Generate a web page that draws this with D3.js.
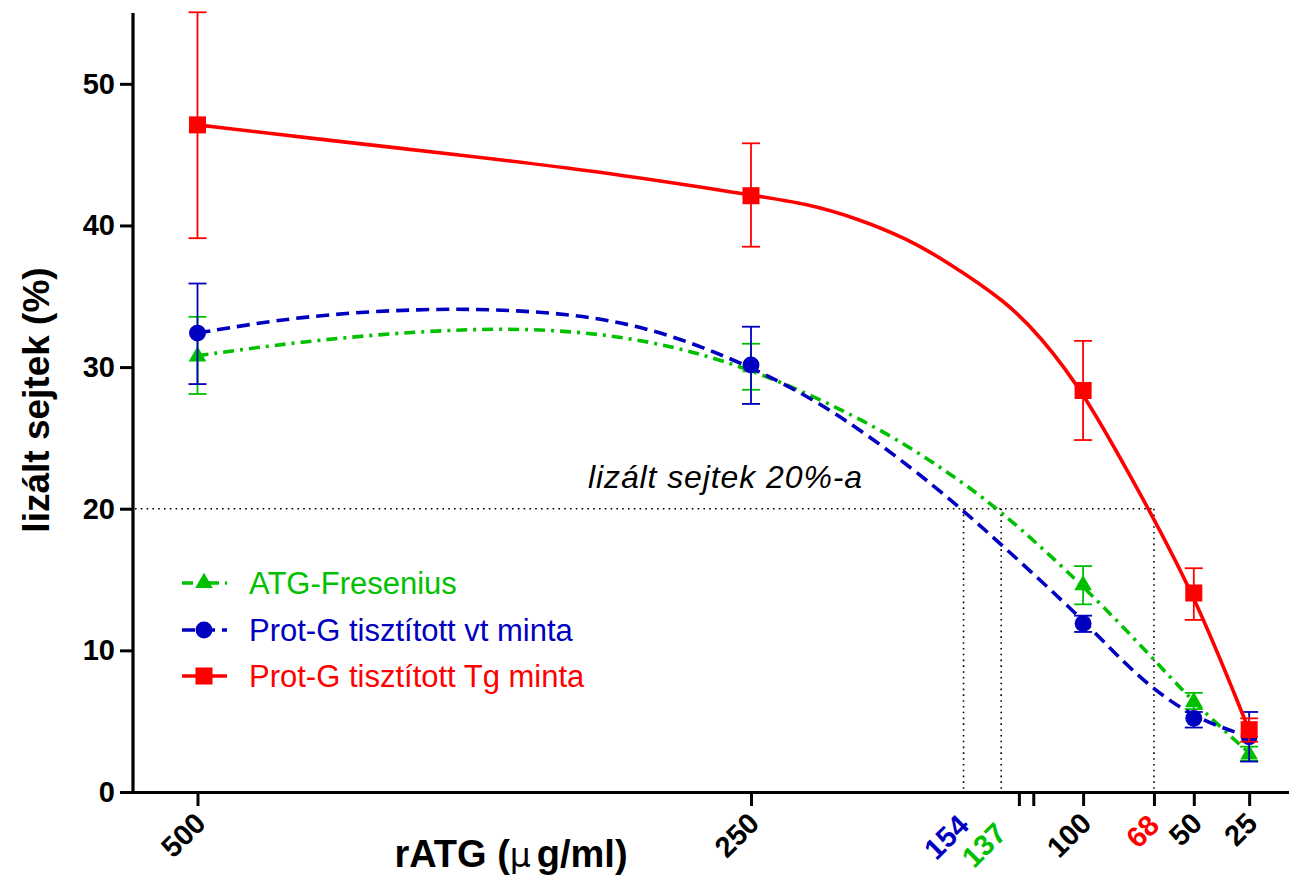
<!DOCTYPE html>
<html>
<head>
<meta charset="utf-8">
<script src="https://cdn.jsdelivr.net/npm/d3@7"></script>
<style>
  html, body { margin: 0; padding: 0; background: #fff; }
  svg { display: block; font-family: "Liberation Sans", Arial, sans-serif; }
</style>
</head>
<body>
<svg id="chart" width="1289" height="877"></svg>
<script>
// ---- measured doses (µg/ml) and lysis (%) ----
const doses = [500, 250, 100, 50, 25];

const atgMean = [30.75, 30.0, 14.6, 6.35, 2.65];
const atgLow  = [28.1, 28.4, 13.25, 5.85, 2.2];
const atgHigh = [33.55, 31.65, 15.95, 7.0, 3.2];

const vtMean = [32.4, 30.15, 11.9, 5.2, 3.9];
const vtLow  = [28.8, 27.4, 11.3, 4.55, 2.15];
const vtHigh = [35.9, 32.85, 12.45, 5.65, 5.65];

const tgMean = [47.1, 42.1, 28.35, 14.05, 4.4];
const tgLow  = [39.1, 38.5, 24.85, 12.15, 3.55];
const tgHigh = [55.05, 45.8, 31.85, 15.8, 5.2];

// ---- fitted curves: [dose, lysis %] ----
const atgFit = [
  [500, 30.8], [454, 31.8], [400, 32.55], [350, 32.8], [300, 32.1], [250, 30.0],
  [195, 26.0], [165, 23.0], [139, 20.15], [100, 14.6], [70, 9.7], [50, 6.3], [25, 2.75]
];
const vtFit = [
  [500, 32.4], [454, 33.6], [400, 34.15], [350, 34.05], [300, 33.15], [250, 30.1],
  [210, 26.75], [165, 21.4], [137.5, 17.55], [100, 12.2], [75, 8.0], [50, 5.2], [25, 3.9]
];
const tgFit = [
  [500, 47.1], [440, 46.0], [380, 44.95], [320, 43.85], [250, 42.15], [225, 41.55],
  [202, 40.5], [180, 39.1], [162, 37.5], [134.5, 34.6], [119.5, 32.2], [100, 28.3],
  [75, 21.3], [50, 14.05], [25, 4.35]
];

// ---- axis ticks and labels ----
const yTicks = [0, 10, 20, 30, 40, 50];
const xTicks = [500, 250, 129, 122.5, 100, 68, 50, 25];
const xLabels = [500, 250, 100, 50, 25];

// ---- 20 % lysis read-offs ----
const refLevel = 20;
const refDoses = [154, 137, 68];
const refNames = ["vt", "atg", "tg"];
const refText = "lizált sejtek 20%-a";

const seriesNames = ["ATG-Fresenius", "Prot-G tisztított vt minta", "Prot-G tisztított Tg minta"];

// ---- styles ----
const colors = { atg: "#00c000", vt: "#0000c0", tg: "#ff0000" };
const dashes = { atg: "11,6,3,6", vt: "13,7", tg: null };
const shapes = { atg: d3.symbolTriangle, vt: d3.symbolCircle, tg: d3.symbolSquare };
const shapeSize = { atg: 135, vt: 225, tg: 290 };

const svg = d3.select("#chart");

const x = d3.scaleLinear().domain([535, 7]).range([120, 1289]);
const y = d3.scaleLinear().domain([0, 55]).range([792, 13]);
const yAxisX = 133;

// y axis
const yAxis = svg.append("g")
  .attr("transform", `translate(${yAxisX},0)`)
  .call(d3.axisLeft(y).tickValues(yTicks).tickSize(13).tickSizeOuter(0).tickPadding(5));
yAxis.select(".domain").attr("stroke", "#000").attr("stroke-width", 3.2)
  .attr("d", `M0,${y(0) + 1.5}V${y(55)}`);
yAxis.selectAll(".tick line").attr("stroke", "#000").attr("stroke-width", 3);
yAxis.selectAll(".tick text")
  .attr("font-family", "Liberation Sans, Arial, sans-serif")
  .attr("font-size", 29).attr("font-weight", "bold").attr("fill", "#000");

// x axis
const xAxis = svg.append("g")
  .attr("transform", `translate(0,${y(0)})`)
  .call(d3.axisBottom(x).tickValues(xTicks).tickSize(14).tickSizeOuter(0).tickFormat(""));
xAxis.select(".domain").attr("stroke", "#000").attr("stroke-width", 3.2);
xAxis.selectAll(".tick line").attr("stroke", "#000").attr("stroke-width", 3);

// rotated dose labels
const labelSize = 29;
svg.append("g").selectAll("text")
  .data(xLabels)
  .join("text")
  .attr("transform", d => `translate(${x(d) + 10},${y(0) + 33}) rotate(-45)`)
  .attr("text-anchor", "end")
  .attr("font-size", labelSize).attr("font-weight", "bold").attr("fill", "#000")
  .text(d => d);

// read-off labels, coloured by series
const refShift = { vt: 0, atg: 8, tg: 0 };
svg.append("g").selectAll("text")
  .data(refDoses.map((d, i) => ({ d, k: refNames[i] })))
  .join("text")
  .attr("transform", e => `translate(${x(e.d) + 7},${y(0) + 35 + refShift[e.k]}) rotate(-45)`)
  .attr("text-anchor", "end")
  .attr("font-size", labelSize).attr("font-weight", "bold")
  .attr("fill", e => colors[e.k])
  .text(e => e.d);

// axis titles
svg.append("text")
  .attr("transform", `translate(49,400) rotate(-90)`)
  .attr("text-anchor", "middle")
  .attr("font-size", 37).attr("font-weight", "bold")
  .text("lizált sejtek (%)");

const xt = svg.append("text")
  .attr("x", 511).attr("y", 867)
  .attr("text-anchor", "middle")
  .attr("font-size", 38).attr("font-weight", "bold");
xt.append("tspan").text("rATG (");
xt.append("tspan").attr("font-weight", "normal").attr("font-family", "DejaVu Sans, sans-serif")
  .attr("font-size", 33).text("µ");
xt.append("tspan").attr("dx", 6).text("g/ml)");

// 20 % reference lines
const ref = svg.append("g").attr("stroke", "#000").attr("stroke-width", 1.6)
  .attr("stroke-dasharray", "1.6,4.2").attr("fill", "none");
ref.append("line")
  .attr("x1", yAxisX + 2).attr("x2", x(d3.min(refDoses)))
  .attr("y1", y(refLevel)).attr("y2", y(refLevel));
ref.selectAll("line.v").data(refDoses).join("line").attr("class", "v")
  .attr("x1", d => x(d)).attr("x2", d => x(d))
  .attr("y1", y(refLevel)).attr("y2", y(0) - 2);

svg.append("text")
  .attr("x", 588).attr("y", 488)
  .attr("font-size", 32).attr("font-style", "italic").attr("letter-spacing", 0.9)
  .text(refText);

// series
const series = [
  { k: "atg", mean: atgMean, low: atgLow, high: atgHigh, fit: atgFit },
  { k: "vt",  mean: vtMean,  low: vtLow,  high: vtHigh,  fit: vtFit },
  { k: "tg",  mean: tgMean,  low: tgLow,  high: tgHigh,  fit: tgFit }
];

// smooth B-spline through the fitted samples (ordered left to right on screen)
const line = d3.line()
  .x(d => x(d[0])).y(d => y(d[1]))
  .curve(d3.curveBasis);

const capHalf = 9;
series.forEach(s => {
  const g = svg.append("g");
  const c = colors[s.k];
  g.append("path")
    .datum(s.fit)
    .attr("d", line)
    .attr("fill", "none").attr("stroke", c).attr("stroke-width", 3.6)
    .attr("stroke-dasharray", dashes[s.k]);

  const eb = g.append("g").attr("stroke", c).attr("stroke-width", 1.8);
  doses.forEach((d, i) => {
    const cx = x(d);
    eb.append("line").attr("x1", cx).attr("x2", cx).attr("y1", y(s.low[i])).attr("y2", y(s.high[i]));
    eb.append("line").attr("x1", cx - capHalf).attr("x2", cx + capHalf).attr("y1", y(s.low[i])).attr("y2", y(s.low[i]));
    eb.append("line").attr("x1", cx - capHalf).attr("x2", cx + capHalf).attr("y1", y(s.high[i])).attr("y2", y(s.high[i]));
  });

  const sym = d3.symbol().type(shapes[s.k]).size(shapeSize[s.k]);
  g.append("g").selectAll("path")
    .data(doses.map((d, i) => [d, s.mean[i]]))
    .join("path")
    .attr("transform", d => `translate(${x(d[0])},${y(d[1])})`)
    .attr("d", sym)
    .attr("fill", c);
});

// legend
const legendRows = [583, 630, 676];
const legend = svg.append("g");
series.forEach((s, i) => {
  const ly = legendRows[i];
  const c = colors[s.k];
  legend.append("line")
    .attr("x1", 182).attr("x2", 227).attr("y1", ly).attr("y2", ly)
    .attr("stroke", c).attr("stroke-width", 3.6)
    .attr("stroke-dasharray", dashes[s.k]);
  legend.append("path")
    .attr("transform", `translate(204,${ly})`)
    .attr("d", d3.symbol().type(shapes[s.k]).size(shapeSize[s.k]))
    .attr("fill", c);
  legend.append("text")
    .attr("x", 249).attr("y", ly).attr("dy", "0.36em")
    .attr("font-size", 31).attr("fill", c)
    .text(seriesNames[i]);
});
</script>
</body>
</html>
